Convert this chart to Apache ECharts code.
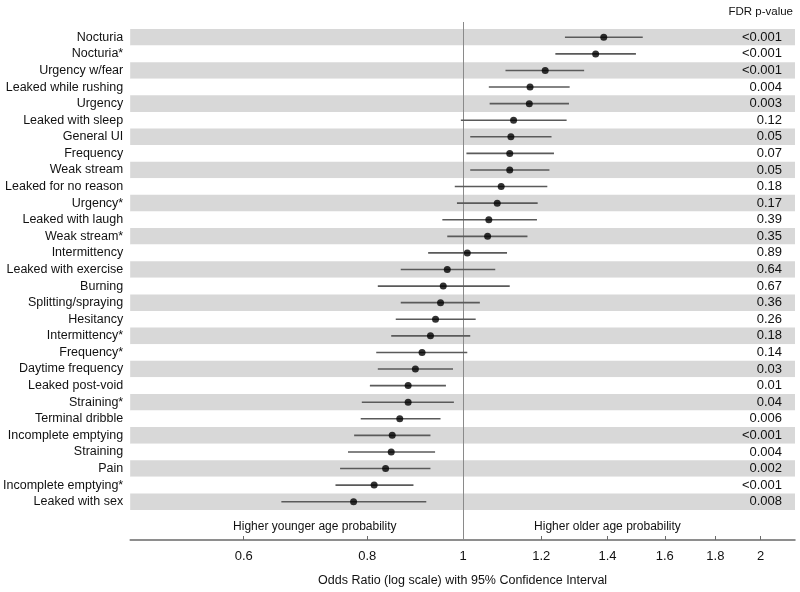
<!DOCTYPE html>
<html>
<head>
<meta charset="utf-8">
<script src="https://cdn.jsdelivr.net/npm/echarts@6/dist/echarts.min.js"></script>
<style>html,body{margin:0;padding:0;background:#fff;}#c{width:800px;height:592px;}</style>
</head>
<body>
<div id="c"></div>
<script>
const labels = ["Nocturia","Nocturia*","Urgency w/fear","Leaked while rushing","Urgency","Leaked with sleep","General UI","Frequency","Weak stream","Leaked for no reason","Urgency*","Leaked with laugh","Weak stream*","Intermittency","Leaked with exercise","Burning","Splitting/spraying","Hesitancy","Intermittency*","Frequency*","Daytime frequency","Leaked post-void","Straining*","Terminal dribble","Incomplete emptying","Straining","Pain","Incomplete emptying*","Leaked with sex"];
const oddsRatio = [1.388,1.362,1.211,1.169,1.167,1.125,1.118,1.115,1.115,1.093,1.083,1.062,1.059,1.010,0.964,0.955,0.949,0.938,0.927,0.909,0.895,0.880,0.880,0.863,0.848,0.846,0.835,0.813,0.775];
const ciLower = [1.268,1.240,1.104,1.062,1.064,0.995,1.017,1.008,1.017,0.981,0.986,0.953,0.964,0.922,0.865,0.820,0.865,0.855,0.846,0.817,0.820,0.805,0.790,0.788,0.776,0.765,0.751,0.743,0.655];
const ciUpper = [1.520,1.496,1.326,1.282,1.280,1.273,1.229,1.236,1.223,1.217,1.190,1.188,1.162,1.108,1.078,1.115,1.040,1.030,1.017,1.010,0.977,0.961,0.979,0.949,0.927,0.937,0.927,0.891,0.918];
const pValues = ["<0.001","<0.001","<0.001","0.004","0.003","0.12","0.05","0.07","0.05","0.18","0.17","0.39","0.35","0.89","0.64","0.67","0.36","0.26","0.18","0.14","0.03","0.01","0.04","0.006","<0.001","0.004","0.002","<0.001","0.008"];
const tickValues = [0.6,0.8,1,1.2,1.4,1.6,1.8,2];
const annotations = ["Higher younger age probability","Higher older age probability"];
const annotationAt = [0.708, 1.40];

const ln = Math.log;
const FONT = '"Liberation Sans", Arial, sans-serif';
const chart = echarts.init(document.getElementById('c'), null, {renderer:'canvas'});

chart.setOption({
  animation: false,
  backgroundColor: '#ffffff',
  grid: {left: 130, right: 5, top: 29, bottom: 82, containLabel: false},
  xAxis: {
    type: 'value',
    min: ln(0.4606), max: ln(2.167),
    offset: 30,
    axisLine: {show: true, lineStyle: {color: '#6a6a6a', width: 1.5}},
    axisTick: {show: true, inside: true, length: 4, customValues: tickValues.map(ln), lineStyle: {color: '#6a6a6a'}},
    axisLabel: {show: true, customValues: tickValues.map(ln), margin: 10, fontSize: 13, color: '#111', fontFamily: FONT,
      formatter: v => String(Math.round(Math.exp(v) * 10) / 10)},
    splitLine: {show: false},
    name: 'Odds Ratio (log scale) with 95% Confidence Interval',
    nameLocation: 'middle', nameGap: 34,
    nameTextStyle: {fontSize: 12.5, color: '#111', fontFamily: FONT}
  },
  yAxis: [{
    type: 'category', data: labels, inverse: true,
    axisLine: {show: false}, axisTick: {show: false, interval: 0},
    axisLabel: {interval: 0, margin: 7, fontSize: 12.5, color: '#111', fontFamily: FONT},
    splitArea: {show: true, interval: 0, areaStyle: {color: ['#d8d8d8', '#ffffff']}},
    splitLine: {show: false}
  }, {
    type: 'category', data: pValues, inverse: true, position: 'right',
    axisLine: {show: false}, axisTick: {show: false, interval: 0},
    axisLabel: {interval: 0, inside: true, margin: 13, fontSize: 13, color: '#111', fontFamily: FONT},
    splitLine: {show: false}, splitArea: {show: false},
    name: 'FDR p-value', nameLocation: 'start', nameGap: 11,
    nameTextStyle: {align: 'right', verticalAlign: 'bottom', fontSize: 11.5, color: '#111', fontFamily: FONT, padding: [0, 2, 0, 0]}
  }],
  series: [{
    type: 'custom',
    name: 'ref',
    clip: false,
    silent: true,
    data: [[0, 0]],
    renderItem: (params, api) => {
      const x = Math.round(api.coord([0, 0])[0]) + 0.5;
      const cs = params.coordSys;
      return {type: 'line', shape: {x1: x, y1: cs.y - 7, x2: x, y2: cs.y + cs.height + 30},
        style: {stroke: '#8a8a8a', lineWidth: 1}};
    },
    z: 1
  }, {
    type: 'custom',
    name: 'annot',
    clip: false,
    silent: true,
    data: annotationAt.map((v, i) => [ln(v), i]),
    renderItem: (params, api) => {
      const x = api.coord([api.value(0), 0])[0];
      const cs = params.coordSys;
      return {type: 'text', x: x, y: cs.y + cs.height + 17,
        style: {text: annotations[params.dataIndex], textAlign: 'center', textVerticalAlign: 'middle',
          fontSize: 12, fontFamily: FONT, fill: '#111'}};
    }
  }, {
    type: 'custom',
    name: 'CI',
    silent: true,
    data: labels.map((l, i) => [ln(ciLower[i]), ln(ciUpper[i]), i]),
    encode: {x: [0, 1], y: 2},
    renderItem: (params, api) => {
      const p1 = api.coord([api.value(0), api.value(2)]);
      const p2 = api.coord([api.value(1), api.value(2)]);
      return {type: 'line', shape: {x1: p1[0], y1: p1[1], x2: p2[0], y2: p2[1]},
        style: {stroke: '#5a5a5a', lineWidth: 1.6}};
    },
    z: 2
  }, {
    type: 'scatter',
    name: 'OR',
    data: labels.map((l, i) => [ln(oddsRatio[i]), i]),
    symbol: 'circle', symbolSize: 7,
    itemStyle: {color: '#000'},
    z: 3
  }]
});
</script>
</body>
</html>
